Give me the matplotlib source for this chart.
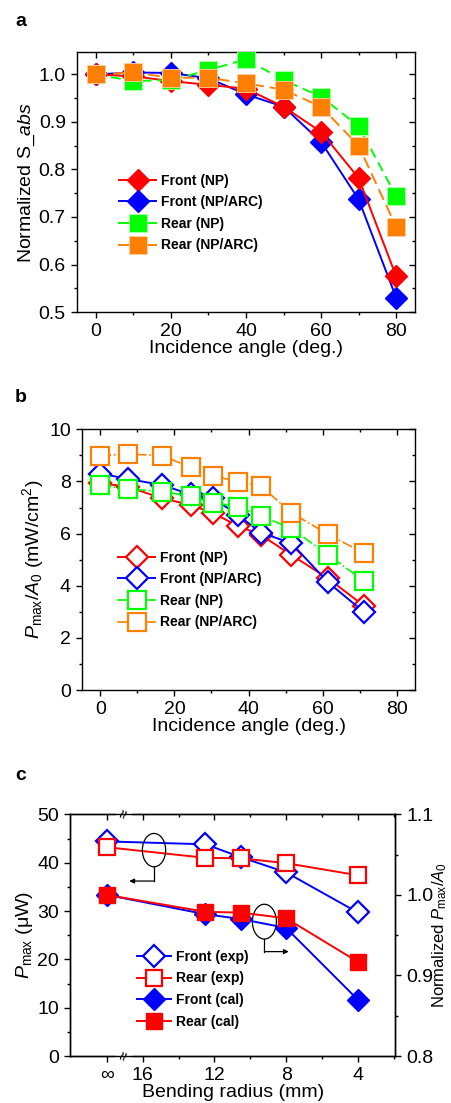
import matplotlib
matplotlib.use('agg')
import matplotlib.pyplot as plt
from matplotlib.ticker import MultipleLocator, FixedLocator
from matplotlib.patches import Ellipse
import matplotlib.transforms as mtransforms

plt.rcParams['font.family'] = ['Liberation Sans', 'DejaVu Sans']
plt.rcParams['mathtext.fontset'] = 'custom'
plt.rcParams['mathtext.rm'] = 'Liberation Sans'
plt.rcParams['mathtext.it'] = 'Liberation Sans:italic'
plt.rcParams['mathtext.bf'] = 'Liberation Sans:bold'
plt.rcParams['axes.linewidth'] = 1.0

# ---- panel a data ----
angle_a = [0, 10, 20, 30, 40, 50, 60, 70, 80]
front_np_a = [1.0, 0.996, 0.986, 0.978, 0.970, 0.932, 0.879, 0.782, 0.575]
front_arc_a = [1.0, 1.004, 1.003, 0.992, 0.958, 0.932, 0.858, 0.737, 0.530]
rear_np_a = [1.0, 0.986, 0.988, 1.009, 1.032, 0.988, 0.953, 0.891, 0.744]
rear_arc_a = [1.0, 1.004, 0.993, 0.993, 0.981, 0.968, 0.932, 0.850, 0.679]

# ---- panel b data ----
angle_b = [0, 7.3, 16.7, 24.4, 30.5, 37.2, 43.3, 51.6, 61.5, 71.3]
front_np_b = [7.93, 7.80, 7.35, 7.10, 6.78, 6.29, 5.95, 5.18, 4.28, 3.22]
front_arc_b = [8.30, 8.10, 7.86, 7.50, 7.35, 6.71, 6.04, 5.63, 4.13, 2.98]
rear_np_b = [7.86, 7.71, 7.61, 7.44, 7.19, 7.03, 6.68, 6.20, 5.18, 4.18]
rear_arc_b = [8.98, 9.05, 8.99, 8.54, 8.21, 7.99, 7.83, 6.80, 5.97, 5.24]

# ---- panel c data ----
radius_pos = [18, 12.5, 10.5, 8, 4]   # 18 stands for the "infinity" (flat) position
radius_ticks = [18, 16, 12, 8, 4]
radius_labels = ['∞', '16', '12', '8', '4']
front_exp = [44.4, 43.8, 41.1, 38.0, 29.7]
rear_exp = [43.2, 41.0, 40.9, 39.9, 37.4]
front_cal = [1.0, 0.976, 0.970, 0.959, 0.870]
rear_cal = [1.0, 0.979, 0.978, 0.971, 0.917]

RED = '#ff0000'
BLUE = '#0000ff'
GREEN = '#00ff00'
ORANGE = '#ff8000'

fig = plt.figure(figsize=(4.51, 11.03), dpi=100)

def style_axes(ax, right_in=True):
    ax.tick_params(which='both', labelsize=14, width=1.0)
    ax.tick_params(which='major', length=4.5)
    ax.tick_params(which='minor', length=2.5)
    ax.tick_params(axis='x', which='both', direction='out', top=True)
    ax.tick_params(axis='y', which='both', direction='out', right=right_in)
    # top/right mirror ticks point inward
    for t in ax.xaxis.get_major_ticks() + ax.xaxis.get_minor_ticks():
        t.tick2line.set_marker(3)
    if right_in:
        for t in ax.yaxis.get_major_ticks() + ax.yaxis.get_minor_ticks():
            t.tick2line.set_marker(0)

# ================= panel a =================
ax1 = fig.add_axes([0.1707, 0.7171, 0.7494, 0.2357])
ax1.plot(angle_a, front_arc_a, '-', color=BLUE, lw=1.4, marker='D', ms=11.5, mec=BLUE, zorder=3, label='Front (NP/ARC)')
ax1.plot(angle_a, front_np_a, '-', color=RED, lw=1.4, marker='D', ms=11.5, mec=RED, zorder=4, label='Front (NP)')
ax1.plot(angle_a, rear_np_a, '--', color=GREEN, lw=1.4, dashes=(5, 3), marker='s', ms=13.5, mec='#b0ffb0', mew=0.6, zorder=5, label='Rear (NP)')
ax1.plot(angle_a, rear_arc_a, '--', color=ORANGE, lw=1.4, dashes=(6, 3), marker='s', ms=13.5, mec='#ffd0a0', mew=0.6, zorder=6, label='Rear (NP/ARC)')
ax1.set_xlim(-5, 85)
ax1.set_ylim(0.5, 1.047)
ax1.xaxis.set_major_locator(MultipleLocator(20))
ax1.xaxis.set_minor_locator(MultipleLocator(10))
ax1.yaxis.set_major_locator(MultipleLocator(0.1))
ax1.yaxis.set_minor_locator(MultipleLocator(0.05))
ax1.yaxis.set_major_formatter(plt.FormatStrFormatter('%.1f'))
ax1.set_xlabel('Incidence angle (deg.)', fontsize=14, labelpad=0)
ax1.set_ylabel(r'Normalized S_$\mathit{abs}$', fontsize=14, labelpad=1)
style_axes(ax1)
h, l = ax1.get_legend_handles_labels()
order = [1, 0, 2, 3]
leg = ax1.legend([h[i] for i in order], [l[i] for i in order], loc='center left',
                 bbox_to_anchor=(0.124, 0.381), frameon=False, borderpad=0, borderaxespad=0,
                 prop={'weight': 'bold', 'size': 10}, handlelength=2.7, handletextpad=0.35,
                 labelspacing=0.55)
for ln in leg.get_lines():
    ln.set_linestyle('-')
fig.text(0.033, 1 - 22 / 1103, 'a', fontsize=14, fontweight='bold', va='center')

# ================= panel b =================
ax2 = fig.add_axes([0.1818, 0.3744, 0.7384, 0.2364])
ax2.plot(angle_b, front_np_b, '-', color=RED, lw=1.4, marker='D', ms=11.5, mfc='white', mec=RED, mew=1.6, label='Front (NP)')
ax2.plot(angle_b, front_arc_b, '-', color=BLUE, lw=1.4, marker='D', ms=11.5, mfc='white', mec=BLUE, mew=1.6, label='Front (NP/ARC)')
ax2.plot(angle_b, rear_np_b, '-.', color=GREEN, lw=1.2, marker='s', ms=12.5, mfc='white', mec=GREEN, mew=1.6, label='Rear (NP)')
ax2.plot(angle_b, rear_arc_b, '-.', color=ORANGE, lw=1.2, marker='s', ms=12.5, mfc='white', mec=ORANGE, mew=1.6, label='Rear (NP/ARC)')
ax2.set_xlim(-5, 85)
ax2.set_ylim(0, 10)
ax2.xaxis.set_major_locator(MultipleLocator(20))
ax2.xaxis.set_minor_locator(MultipleLocator(10))
ax2.yaxis.set_major_locator(MultipleLocator(2))
ax2.yaxis.set_minor_locator(MultipleLocator(1))
ax2.set_xlabel('Incidence angle (deg.)', fontsize=14, labelpad=0)
ax2.set_ylabel(r'$P_{\mathrm{max}}/A_0$ (mW/cm$^2$)', fontsize=14, labelpad=2)
style_axes(ax2)
leg = ax2.legend(loc='center left', bbox_to_anchor=(0.108, 0.3836), frameon=False, borderpad=0,
                 borderaxespad=0, prop={'weight': 'bold', 'size': 10}, handlelength=2.7,
                 handletextpad=0.35, labelspacing=0.55)
for ln in leg.get_lines():
    ln.set_linestyle('-')
fig.text(0.033, 1 - 397 / 1103, 'b', fontsize=14, fontweight='bold', va='center')

# ================= panel c =================
ax3 = fig.add_axes([0.1559, 0.0426, 0.72, 0.2191])
ax4 = ax3.twinx()
l1, = ax3.plot(radius_pos, front_exp, '-', color=BLUE, lw=1.4, marker='D', ms=11.5, mfc='white', mec=BLUE, mew=1.6, label='Front (exp)')
l2, = ax3.plot(radius_pos, rear_exp, '-', color=RED, lw=1.4, marker='s', ms=12, mfc='white', mec=RED, mew=1.6, label='Rear (exp)')
l3, = ax4.plot(radius_pos, front_cal, '-', color=BLUE, lw=1.4, marker='D', ms=11.5, mec=BLUE, label='Front (cal)')
l4, = ax4.plot(radius_pos, rear_cal, '-', color=RED, lw=1.4, marker='s', ms=12, mec=RED, label='Rear (cal)')
ax3.set_xlim(20.04, 1.92)
ax3.set_ylim(0, 50)
ax4.set_ylim(0.8, 1.1)
ax3.xaxis.set_major_locator(FixedLocator(radius_ticks))
ax3.set_xticklabels(radius_labels)
ax3.xaxis.set_minor_locator(FixedLocator([14, 10, 6, 2]))
ax3.yaxis.set_major_locator(MultipleLocator(10))
ax3.yaxis.set_minor_locator(MultipleLocator(5))
ax4.yaxis.set_major_locator(MultipleLocator(0.1))
ax4.yaxis.set_minor_locator(MultipleLocator(0.05))
ax4.yaxis.set_major_formatter(plt.FormatStrFormatter('%.1f'))
ax3.set_xlabel('Bending radius (mm)', fontsize=14, labelpad=0)
ax3.set_ylabel(r'$P_{\mathrm{max}}$ (μW)', fontsize=14, labelpad=2)
ax4.set_ylabel(r'Normalized $P_{\mathrm{max}}/A_0$', fontsize=12)
ax4.yaxis.set_label_coords(1.11, 0.5)
style_axes(ax3, right_in=False)
ax4.tick_params(which='both', labelsize=14, direction='out', width=1.0)
ax4.tick_params(which='major', length=4.5)
ax4.tick_params(which='minor', length=2.5)

# axis break marks at the top and bottom spines
brk = mtransforms.blended_transform_factory(ax3.transData, ax3.transAxes)
for yb in (0, 1):
    ax3.text(17.04, yb, '≈', transform=brk, rotation=70, ha='center', va='center', fontsize=12,
             clip_on=False, zorder=20, bbox=dict(fc='white', ec='none', pad=0.2))

# ellipses with arrows pointing to the axis each pair belongs to
ax3.add_patch(Ellipse((15.37, 42.6), 1.3, 6.9, fill=False, ec='black', lw=0.9, zorder=6))
ax3.plot([15.37, 15.37], [39.15, 36.2], color='black', lw=0.9)
ax3.annotate('', xy=(16.75, 36.2), xytext=(15.37, 36.2),
             arrowprops=dict(arrowstyle='-|>', color='black', lw=0.9, mutation_scale=7, shrinkA=0, shrinkB=0))
ax3.add_patch(Ellipse((9.21, 27.8), 1.34, 7.2, fill=False, ec='black', lw=0.9, zorder=6))
ax3.plot([9.21, 9.21], [24.2, 21.6], color='black', lw=0.9)
ax3.annotate('', xy=(7.85, 21.6), xytext=(9.21, 21.6),
             arrowprops=dict(arrowstyle='-|>', color='black', lw=0.9, mutation_scale=7, shrinkA=0, shrinkB=0))

ax4.legend([l1, l2, l3, l4], [l1.get_label(), l2.get_label(), l3.get_label(), l4.get_label()],
           loc='center left', bbox_to_anchor=(0.2045, 0.2764), frameon=False, borderpad=0,
           borderaxespad=0, prop={'weight': 'bold', 'size': 10}, handlelength=2.5,
           handletextpad=0.35, labelspacing=0.55)
fig.text(0.033, 1 - 776 / 1103, 'c', fontsize=14, fontweight='bold', va='center')

fig.savefig('out.png', dpi=100)
